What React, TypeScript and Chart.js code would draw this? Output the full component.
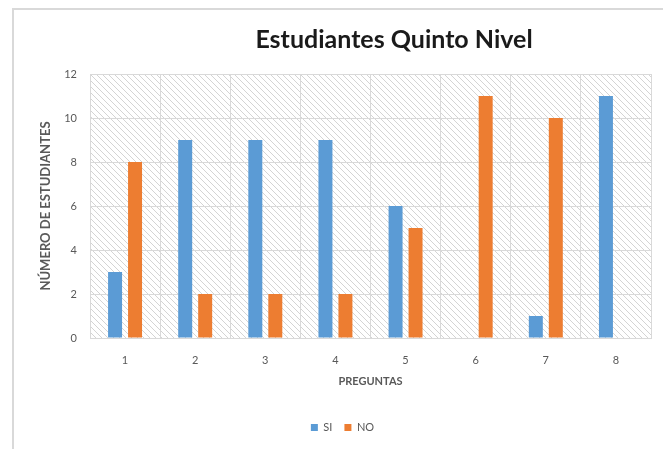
import { useEffect, useRef } from 'react'
import { Chart, registerables } from 'chart.js'
import type { Plugin } from 'chart.js'

Chart.register(...registerables)

const PREGUNTAS = ['1', '2', '3', '4', '5', '6', '7', '8']
const SI = [3, 9, 9, 9, 6, 0, 1, 11]
const NO = [8, 2, 2, 2, 5, 11, 10, 0]

const TITLE = 'Estudiantes Quinto Nivel'
const FONT = 'Lato, "Open Sans", sans-serif'
const GRID = '#d9d9d9'
const TICK = '#595959'

function makeHatch(): CanvasPattern | string {
  const s = 6
  const c = document.createElement('canvas')
  c.width = s
  c.height = s
  const g = c.getContext('2d')
  if (!g) return '#fff'
  g.fillStyle = '#fff'
  g.fillRect(0, 0, s, s)
  g.strokeStyle = '#d4d4d4'
  g.lineWidth = 1
  for (const k of [-s, 0, s]) {
    g.beginPath()
    g.moveTo(-1, -1 + k)
    g.lineTo(s + 1, s + 1 + k)
    g.stroke()
  }
  return g.createPattern(c, 'repeat') ?? '#fff'
}

// hatched plot background + title drawn off-centre like the Excel original
const decor: Plugin<'bar'> = {
  id: 'decor',
  beforeDraw(chart) {
    const { ctx, chartArea: a } = chart
    ctx.save()
    ctx.fillStyle = makeHatch()
    ctx.fillRect(a.left, a.top, a.right - a.left, a.bottom - a.top)
    ctx.restore()
  },
  afterDraw(chart) {
    const { ctx, chartArea: a } = chart
    ctx.save()
    ctx.font = `bold 25px ${FONT}`
    ctx.fillStyle = '#1a1a1a'
    ctx.textAlign = 'center'
    ctx.textBaseline = 'middle'
    ctx.fillText(TITLE, a.left + 304, 30)
    ctx.restore()
  },
}

export default function App() {
  const canvasRef = useRef<HTMLCanvasElement>(null)

  useEffect(() => {
    if (!canvasRef.current) return
    const chart = new Chart(canvasRef.current, {
      type: 'bar',
      data: {
        labels: PREGUNTAS,
        datasets: [
          { label: 'SI', data: SI, backgroundColor: '#5b9bd5', categoryPercentage: 0.57, barPercentage: 0.7 },
          { label: 'NO', data: NO, backgroundColor: '#ed7d31', categoryPercentage: 0.57, barPercentage: 0.7 },
        ],
      },
      options: {
        animation: false,
        responsive: false,
        layout: { padding: { top: 64, right: 12, left: 20, bottom: 6 } },
        plugins: {
          legend: {
            position: 'bottom',
            labels: {
              boxWidth: 7,
              boxHeight: 7,
              padding: 12,
              color: TICK,
              font: { family: FONT, size: 11 },
            },
          },
          tooltip: { enabled: false },
        },
        scales: {
          x: {
            grid: { color: GRID, lineWidth: 1, drawTicks: false },
            border: { color: GRID },
            ticks: { color: TICK, font: { family: FONT, size: 11 }, padding: 16 },
            title: {
              display: true,
              text: 'PREGUNTAS',
              color: TICK,
              font: { family: FONT, size: 11, weight: 'bold' },
              padding: { top: 2, bottom: 22 },
            },
            afterFit: (s) => { s.height = 72 },
          },
          y: {
            min: 0,
            max: 12,
            ticks: { stepSize: 2, color: TICK, font: { family: FONT, size: 11 }, padding: 13 },
            grid: { color: GRID, lineWidth: 1, drawTicks: false },
            border: { display: false },
            title: {
              display: true,
              text: 'NÚMERO DE ESTUDIANTES',
              color: TICK,
              font: { family: FONT, size: 13, weight: 'bold' },
              padding: { bottom: 2 },
            },
            afterFit: (s) => { s.width = 56 },
          },
        },
      },
      plugins: [decor],
    })
    return () => chart.destroy()
  }, [])

  return (
    <div style={{ position: 'absolute', left: 12, top: 8, borderLeft: '2px solid #d9d9d9', borderTop: '2px solid #d9d9d9', background: '#fff' }}>
      <canvas ref={canvasRef} width={649} height={439} style={{ display: 'block' }} />
    </div>
  )
}
